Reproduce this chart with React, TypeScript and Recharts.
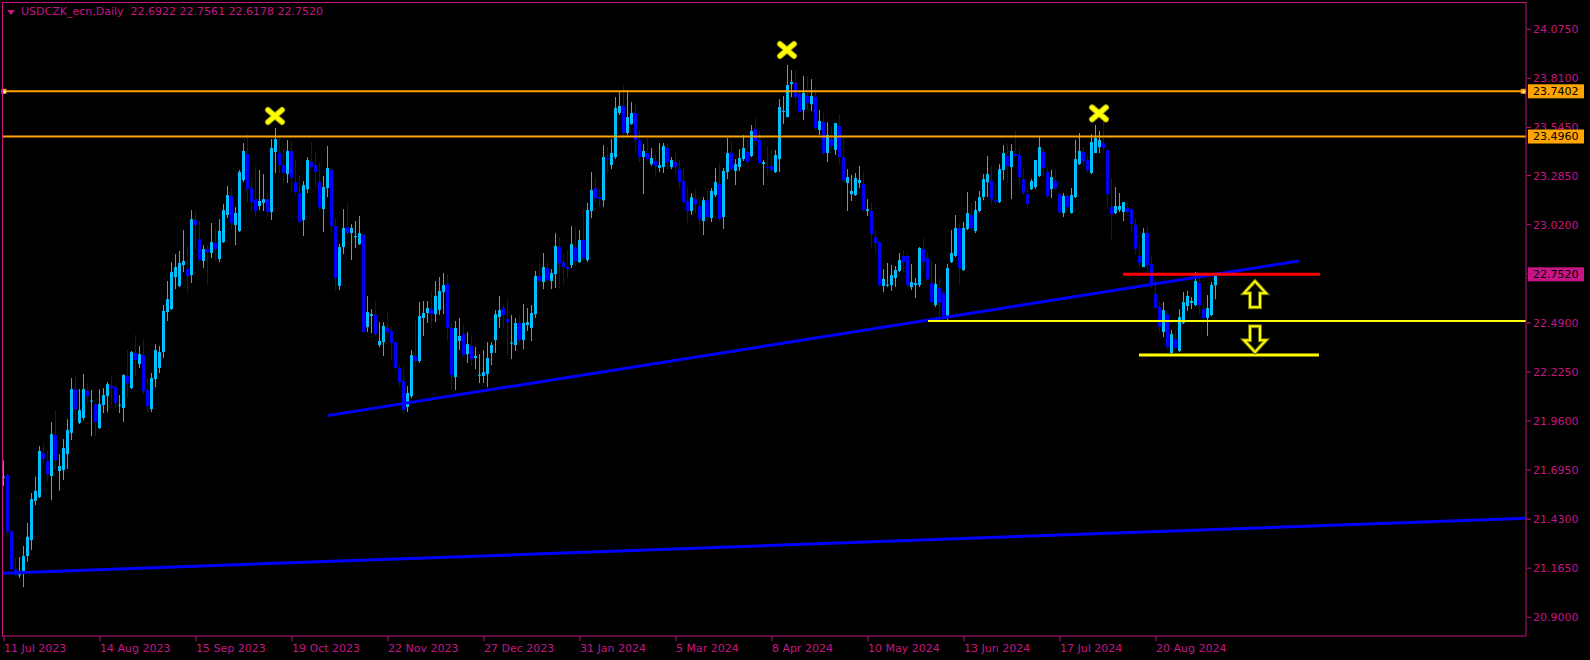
import React from 'react';
import { ComposedChart, Bar, XAxis, YAxis, ReferenceLine, ReferenceDot } from 'recharts';

const MAGENTA = '#C71585';
const BULL = '#00BFFF';
const BEAR = '#0000FF';
const ORANGE = '#FFA500';
const YELLOW = '#FFFF00';
const FONT = '"DejaVu Sans", sans-serif';

// bar index of each date label (daily bars, 4px apart in MT4)
const DATE_TICKS = [0, 24, 48, 72, 96, 120, 144, 168, 192, 216, 240, 264, 288];
const DATE_LABELS = [
  '11 Jul 2023', '14 Aug 2023', '15 Sep 2023', '19 Oct 2023', '22 Nov 2023', '27 Dec 2023',
  '31 Jan 2024', '5 Mar 2024', '8 Apr 2024', '10 May 2024', '13 Jun 2024', '17 Jul 2024', '20 Aug 2024',
];

const PRICE_TICKS = [24.075, 23.81, 23.545, 23.285, 23.02, 22.755, 22.49, 22.225, 21.96, 21.695, 21.43, 21.165, 20.9];
const HIDDEN_TICK = 22.755;
const RESISTANCE = [23.7402, 23.496];
const LAST_PRICE = 22.752;

const OPEN = [
  21.652, 21.668, 21.365, 21.159, 21.128, 21.139, 21.231, 21.317, 21.529, 21.549,
  21.787, 21.744, 21.663, 21.884, 21.690, 21.695, 21.781, 21.896, 22.132, 21.949,
  21.976, 22.122, 22.066, 22.051, 21.922, 22.046, 22.095, 22.149, 22.143, 22.044,
  22.030, 22.203, 22.138, 22.327, 22.267, 22.316, 22.127, 22.024, 22.186, 22.246,
  22.332, 22.548, 22.564, 22.737, 22.689, 22.802, 22.780, 22.748, 23.045, 22.942,
  22.824, 22.888, 22.867, 22.921, 22.834, 22.926, 23.072, 23.175, 23.018, 22.986,
  23.261, 23.401, 23.217, 23.158, 23.121, 23.137, 23.158, 23.088, 23.412, 23.407,
  23.342, 23.293, 23.418, 23.250, 23.191, 23.045, 23.212, 23.358, 23.342, 23.250,
  23.104, 23.218, 23.315, 23.013, 22.689, 22.899, 23.007, 22.975, 22.953, 22.915,
  22.964, 22.467, 22.527, 22.532, 22.370, 22.386, 22.462, 22.446, 22.386, 22.246,
  22.176, 22.035, 22.095, 22.311, 22.284, 22.516, 22.543, 22.564, 22.537, 22.559,
  22.656, 22.700, 22.462, 22.197, 22.392, 22.429, 22.321, 22.365, 22.300, 22.206,
  22.203, 22.213, 22.327, 22.397, 22.521, 22.570, 22.510, 22.378, 22.370, 22.489,
  22.397, 22.478, 22.462, 22.537, 22.743, 22.710, 22.786, 22.716, 22.753, 22.899,
  22.818, 22.791, 22.802, 22.899, 22.818, 22.937, 22.829, 23.094, 23.218, 23.169,
  23.152, 23.380, 23.342, 23.385, 23.623, 23.661, 23.515, 23.563, 23.623, 23.477,
  23.385, 23.407, 23.347, 23.364, 23.326, 23.331, 23.434, 23.331, 23.358, 23.320,
  23.256, 23.148, 23.094, 23.158, 23.121, 23.040, 23.152, 23.056, 23.180, 23.239,
  23.061, 23.304, 23.407, 23.310, 23.331, 23.374, 23.412, 23.391, 23.536, 23.477,
  23.347, 23.331, 23.337, 23.304, 23.374, 23.628, 23.601, 23.779, 23.785, 23.725,
  23.639, 23.715, 23.671, 23.709, 23.531, 23.574, 23.407, 23.482, 23.423, 23.553,
  23.385, 23.245, 23.185, 23.180, 23.245, 23.239, 23.094, 23.094, 22.953, 22.926,
  22.689, 22.692, 22.694, 22.732, 22.770, 22.851, 22.851, 22.683, 22.694, 22.694,
  22.888, 22.840, 22.705, 22.586, 22.678, 22.651, 22.516, 22.818, 22.851, 23.002,
  22.775, 22.997, 23.072, 22.986, 23.094, 23.169, 23.250, 23.256, 23.152, 23.142,
  23.315, 23.391, 23.331, 23.401, 23.396, 23.266, 23.185, 23.212, 23.223, 23.283,
  23.412, 23.304, 23.212, 23.256, 23.185, 23.083, 23.175, 23.083, 23.169, 23.347,
  23.412, 23.369, 23.299, 23.407, 23.439, 23.461, 23.423, 23.115, 23.083, 23.099,
  23.088, 23.110, 23.104, 23.018, 22.851, 22.791, 22.975, 22.807, 22.645, 22.575,
  22.440, 22.537, 22.327, 22.403, 22.338, 22.489, 22.581, 22.597, 22.586, 22.705,
  22.564, 22.516, 22.532, 22.6922,
];

const HIGH = [
  21.748, 21.675, 21.371, 21.220, 21.225, 21.285, 21.409, 21.571, 21.659, 21.825,
  21.835, 21.803, 21.954, 22.019, 21.781, 21.862, 21.970, 22.192, 22.208, 22.132,
  22.213, 22.165, 22.127, 22.062, 22.132, 22.138, 22.170, 22.203, 22.154, 22.100,
  22.213, 22.343, 22.338, 22.424, 22.365, 22.397, 22.197, 22.219, 22.375, 22.365,
  22.586, 22.716, 22.818, 22.861, 22.878, 22.991, 22.905, 23.099, 23.088, 23.040,
  22.910, 22.910, 23.029, 23.007, 23.050, 23.131, 23.229, 23.218, 23.115, 23.315,
  23.461, 23.509, 23.261, 23.331, 23.315, 23.293, 23.191, 23.482, 23.542, 23.493,
  23.428, 23.477, 23.472, 23.369, 23.288, 23.256, 23.385, 23.466, 23.407, 23.353,
  23.283, 23.445, 23.331, 23.056, 22.915, 23.104, 23.131, 23.023, 23.040, 23.067,
  22.969, 22.635, 22.564, 22.608, 22.494, 22.494, 22.543, 22.467, 22.390, 22.262,
  22.262, 22.149, 22.343, 22.505, 22.602, 22.608, 22.608, 22.656, 22.716, 22.737,
  22.759, 22.753, 22.483, 22.500, 22.516, 22.483, 22.440, 22.419, 22.359, 22.321,
  22.343, 22.386, 22.386, 22.559, 22.635, 22.586, 22.618, 22.532, 22.516, 22.532,
  22.591, 22.570, 22.586, 22.770, 22.813, 22.867, 22.824, 22.780, 22.975, 22.953,
  22.861, 22.883, 23.013, 23.007, 22.991, 23.104, 23.137, 23.304, 23.272, 23.212,
  23.450, 23.439, 23.482, 23.709, 23.736, 23.774, 23.736, 23.682, 23.671, 23.531,
  23.455, 23.488, 23.434, 23.401, 23.461, 23.461, 23.461, 23.385, 23.412, 23.369,
  23.331, 23.223, 23.191, 23.212, 23.152, 23.169, 23.207, 23.218, 23.326, 23.353,
  23.326, 23.488, 23.472, 23.374, 23.428, 23.504, 23.482, 23.558, 23.601, 23.531,
  23.369, 23.445, 23.423, 23.423, 23.698, 23.715, 23.882, 23.855, 23.855, 23.736,
  23.823, 23.823, 23.806, 23.763, 23.639, 23.623, 23.574, 23.547, 23.569, 23.617,
  23.493, 23.320, 23.288, 23.299, 23.337, 23.304, 23.158, 23.142, 22.991, 22.932,
  22.780, 22.813, 22.802, 22.797, 22.867, 22.883, 22.867, 22.807, 22.732, 22.899,
  22.953, 22.872, 22.829, 22.807, 22.737, 22.667, 22.807, 22.991, 23.072, 23.029,
  23.034, 23.196, 23.137, 23.148, 23.202, 23.293, 23.391, 23.337, 23.234, 23.347,
  23.450, 23.461, 23.455, 23.526, 23.434, 23.326, 23.212, 23.266, 23.369, 23.493,
  23.428, 23.331, 23.315, 23.320, 23.190, 23.191, 23.185, 23.218, 23.477, 23.515,
  23.439, 23.391, 23.509, 23.558, 23.526, 23.612, 23.425, 23.272, 23.223, 23.191,
  23.142, 23.142, 23.115, 23.056, 22.921, 23.002, 23.013, 22.845, 22.727, 22.602,
  22.602, 22.548, 22.451, 22.451, 22.564, 22.656, 22.662, 22.629, 22.764, 22.737,
  22.612, 22.640, 22.710, 22.7561,
];

const LOW = [
  21.608, 21.344, 21.155, 21.125, 21.112, 21.063, 21.200, 21.263, 21.506, 21.544,
  21.722, 21.632, 21.533, 21.695, 21.583, 21.641, 21.701, 21.857, 21.965, 21.943,
  21.965, 22.057, 21.879, 21.873, 21.917, 22.003, 22.008, 22.051, 22.030, 22.003,
  21.954, 22.084, 22.132, 22.203, 22.246, 22.106, 22.008, 22.008, 22.143, 22.219,
  22.300, 22.500, 22.559, 22.672, 22.683, 22.764, 22.651, 22.705, 22.883, 22.813,
  22.786, 22.694, 22.840, 22.824, 22.818, 22.921, 23.056, 22.991, 22.910, 22.980,
  23.250, 23.142, 23.088, 23.061, 23.099, 23.094, 23.067, 23.045, 23.299, 23.299,
  23.234, 23.245, 23.196, 23.180, 23.030, 22.959, 23.191, 23.320, 23.223, 23.094,
  22.980, 23.169, 22.975, 22.662, 22.667, 22.861, 22.964, 22.829, 22.894, 22.910,
  22.435, 22.440, 22.435, 22.419, 22.359, 22.311, 22.413, 22.289, 22.240, 22.143,
  21.997, 22.008, 22.084, 22.251, 22.273, 22.419, 22.489, 22.462, 22.494, 22.532,
  22.537, 22.392, 22.127, 22.127, 22.343, 22.305, 22.273, 22.257, 22.240, 22.165,
  22.165, 22.143, 22.262, 22.327, 22.462, 22.462, 22.311, 22.294, 22.338, 22.381,
  22.348, 22.446, 22.392, 22.516, 22.700, 22.672, 22.710, 22.672, 22.678, 22.672,
  22.700, 22.732, 22.786, 22.797, 22.813, 22.829, 22.818, 23.056, 23.137, 23.115,
  23.115, 23.293, 23.320, 23.374, 23.612, 23.482, 23.504, 23.560, 23.418, 23.358,
  23.185, 23.364, 23.337, 23.277, 23.304, 23.299, 23.320, 23.320, 23.288, 23.218,
  23.137, 23.029, 23.072, 23.083, 23.018, 22.964, 23.045, 23.034, 23.169, 23.040,
  22.997, 23.266, 23.310, 23.234, 23.310, 23.364, 23.347, 23.385, 23.445, 23.347,
  23.234, 23.288, 23.304, 23.299, 23.304, 23.563, 23.601, 23.709, 23.666, 23.623,
  23.585, 23.634, 23.634, 23.531, 23.504, 23.396, 23.358, 23.423, 23.396, 23.342,
  23.245, 23.094, 23.148, 23.175, 23.218, 23.088, 23.067, 22.899, 22.867, 22.683,
  22.656, 22.683, 22.662, 22.683, 22.764, 22.764, 22.683, 22.667, 22.624, 22.683,
  22.780, 22.721, 22.597, 22.575, 22.516, 22.505, 22.505, 22.813, 22.845, 22.700,
  22.770, 22.991, 22.991, 22.975, 23.088, 23.152, 23.169, 23.126, 23.131, 23.137,
  23.261, 23.245, 23.158, 23.385, 23.223, 23.180, 23.110, 23.207, 23.212, 23.277,
  23.283, 23.164, 23.164, 23.207, 23.083, 23.061, 23.088, 23.080, 23.164, 23.342,
  23.337, 23.299, 23.293, 23.407, 23.407, 23.407, 23.115, 22.942, 23.077, 23.088,
  23.040, 23.083, 22.980, 22.861, 22.791, 22.791, 22.748, 22.678, 22.565, 22.435,
  22.413, 22.348, 22.325, 22.343, 22.332, 22.483, 22.554, 22.564, 22.581, 22.537,
  22.483, 22.419, 22.527, 22.6178,
];

const CLOSE = [
  21.660, 21.362, 21.159, 21.130, 21.132, 21.231, 21.335, 21.538, 21.583, 21.798,
  21.754, 21.673, 21.889, 21.749, 21.717, 21.814, 21.911, 22.132, 22.024, 22.019,
  22.132, 22.095, 22.070, 21.954, 22.051, 22.100, 22.159, 22.138, 22.057, 22.048,
  22.208, 22.165, 22.332, 22.289, 22.321, 22.122, 22.041, 22.192, 22.343, 22.332,
  22.554, 22.618, 22.764, 22.791, 22.813, 22.824, 22.743, 23.050, 23.018, 22.829,
  22.888, 22.872, 22.926, 22.888, 22.986, 23.099, 23.180, 23.029, 23.083, 23.304,
  23.418, 23.212, 23.142, 23.094, 23.148, 23.158, 23.088, 23.434, 23.482, 23.342,
  23.299, 23.418, 23.272, 23.196, 23.034, 23.234, 23.369, 23.331, 23.304, 23.115,
  23.223, 23.326, 23.013, 22.732, 22.899, 23.002, 22.975, 23.002, 22.959, 22.975,
  22.440, 22.548, 22.537, 22.429, 22.392, 22.473, 22.440, 22.381, 22.246, 22.170,
  22.019, 22.111, 22.316, 22.284, 22.527, 22.543, 22.570, 22.537, 22.635, 22.662,
  22.694, 22.462, 22.208, 22.462, 22.419, 22.316, 22.375, 22.294, 22.311, 22.210,
  22.224, 22.300, 22.370, 22.537, 22.559, 22.532, 22.494, 22.384, 22.489, 22.397,
  22.489, 22.494, 22.543, 22.743, 22.716, 22.791, 22.721, 22.759, 22.905, 22.813,
  22.791, 22.780, 22.915, 22.824, 22.937, 22.840, 23.099, 23.207, 23.164, 23.158,
  23.385, 23.374, 23.407, 23.650, 23.661, 23.515, 23.601, 23.623, 23.477, 23.385,
  23.418, 23.374, 23.380, 23.337, 23.342, 23.445, 23.358, 23.369, 23.331, 23.250,
  23.142, 23.094, 23.169, 23.131, 23.050, 23.152, 23.061, 23.202, 23.250, 23.050,
  23.310, 23.407, 23.320, 23.347, 23.380, 23.434, 23.358, 23.526, 23.472, 23.353,
  23.358, 23.326, 23.315, 23.396, 23.655, 23.634, 23.774, 23.790, 23.709, 23.628,
  23.731, 23.677, 23.715, 23.542, 23.580, 23.407, 23.504, 23.445, 23.569, 23.385,
  23.261, 23.277, 23.202, 23.272, 23.261, 23.099, 23.104, 22.969, 22.921, 22.694,
  22.727, 22.696, 22.748, 22.775, 22.829, 22.818, 22.694, 22.710, 22.705, 22.894,
  22.818, 22.727, 22.602, 22.700, 22.597, 22.521, 22.786, 22.867, 23.002, 22.786,
  23.002, 23.083, 23.002, 23.099, 23.169, 23.266, 23.293, 23.158, 23.142, 23.320,
  23.407, 23.337, 23.418, 23.391, 23.277, 23.191, 23.131, 23.256, 23.369, 23.439,
  23.326, 23.175, 23.277, 23.218, 23.088, 23.175, 23.115, 23.180, 23.374, 23.418,
  23.364, 23.315, 23.466, 23.488, 23.477, 23.434, 23.185, 23.077, 23.121, 23.121,
  23.142, 23.088, 23.023, 22.888, 22.813, 22.975, 22.802, 22.694, 22.570, 22.467,
  22.559, 22.359, 22.429, 22.354, 22.521, 22.602, 22.635, 22.608, 22.716, 22.586,
  22.516, 22.570, 22.694, 22.7520,
];

// drawn objects: trend lines and levels (bar index, price)
const LONG_TREND = [{ x: -0.5, y: 21.138 }, { x: 380.5, y: 21.435 }];
const RISING_TREND = [{ x: 80.9, y: 21.989 }, { x: 323.75, y: 22.824 }];
const NECKLINE = [{ x: 231, y: 22.5 }, { x: 380.5, y: 22.5 }];
const LOWER_SUPPORT = [{ x: 283.75, y: 22.316 }, { x: 328.75, y: 22.316 }];
const RED_LEVEL = [{ x: 279.75, y: 22.752 }, { x: 329, y: 22.752 }];
const PEAK_X = [67.75, 195.75, 273.75];
const PEAK_Y = [23.607, 23.963, 23.621];
const ARROW_X = 312.75;
const ARROW_UP_Y = 22.645;
const ARROW_DOWN_Y = 22.402;
const HANDLE_X = [0, 379.8];

const data = OPEN.map((o, i) => ({ i, o, h: HIGH[i], l: LOW[i], c: CLOSE[i] }));

const Candle = (props: any) => {
  const { x, y, width, height, payload } = props;
  if (x == null || y == null || !payload) return null;
  const { o, h, l, c } = payload;
  const top = Math.min(y, y + height);
  const bottom = Math.max(y, y + height);
  const span = h - l;
  const toY = (v: number) => (span > 0 ? top + ((h - v) / span) * (bottom - top) : top);
  const color = c > o ? BULL : BEAR;
  const cx = Math.floor(x + width / 2);
  const bTop = Math.min(toY(o), toY(c));
  const bH = Math.max(1, Math.abs(toY(o) - toY(c)));
  return (
    <g>
      <rect x={cx} y={top} width={1} height={Math.max(1, bottom - top)} fill={color} />
      <rect x={cx - 1} y={bTop} width={3} height={bH} fill={color} />
    </g>
  );
};

const TAGS = [
  { v: RESISTANCE[0], bg: ORANGE },
  { v: RESISTANCE[1], bg: ORANGE },
  { v: LAST_PRICE, bg: MAGENTA },
];

const PriceTick = (props: any) => {
  const { x, y, payload } = props;
  const v = payload.value as number;
  const tag = TAGS.find((t) => Math.abs(t.v - v) < 1e-6);
  if (tag) {
    return (
      <g>
        <rect x={x + 2} y={y - 7} width={56} height={14} fill={tag.bg} />
        <text x={x + 7} y={y} dy="0.36em" fill="#000" fontSize={11} fontFamily={FONT}>
          {v.toFixed(4)}
        </text>
      </g>
    );
  }
  return (
    <g>
      <line x1={x + 1} x2={x + 5} y1={y} y2={y} stroke={MAGENTA} />
      {Math.abs(v - HIDDEN_TICK) > 1e-6 && (
        <text x={x + 7} y={y} dy="0.36em" fill={MAGENTA} fontSize={11} fontFamily={FONT}>
          {v.toFixed(4)}
        </text>
      )}
    </g>
  );
};

const DateTick = (props: any) => {
  const { x, y, payload } = props;
  const idx = DATE_TICKS.indexOf(payload.value);
  return (
    <g>
      <line x1={x} x2={x} y1={y} y2={y + 5} stroke={MAGENTA} />
      <text x={x} y={y + 12} dy="0.36em" textAnchor="start" fill={MAGENTA} fontSize={11} fontFamily={FONT}>
        {DATE_LABELS[idx]}
      </text>
    </g>
  );
};

const PeakMark = (props: any) => {
  const { cx, cy } = props;
  if (cx == null) return null;
  return (
    <g>
      <path d={`M${cx - 7},${cy - 6} L${cx + 7},${cy + 6} M${cx - 7},${cy + 6} L${cx + 7},${cy - 6}`}
        stroke="#B8B800" strokeWidth={6} strokeLinecap="round" />
      <path d={`M${cx - 7},${cy - 6} L${cx + 7},${cy + 6} M${cx - 7},${cy + 6} L${cx + 7},${cy - 6}`}
        stroke={YELLOW} strokeWidth={4} strokeLinecap="round" />
    </g>
  );
};

const arrowPath = (cx: number, cy: number, dir: number) => {
  const p = [
    [0, -13], [11, -1], [5, -1], [5, 13], [-5, 13], [-5, -1], [-11, -1],
  ];
  return 'M' + p.map(([a, b]) => `${cx + a},${cy + b * dir}`).join(' L') + ' Z';
};

const Arrow = (dir: number) => (props: any) => {
  const { cx, cy } = props;
  if (cx == null) return null;
  return (
    <g>
      <path d={arrowPath(cx, cy, dir)} fill="none" stroke="#6E6E00" strokeWidth={4} strokeLinejoin="miter" />
      <path d={arrowPath(cx, cy, dir)} fill="none" stroke={YELLOW} strokeWidth={2} strokeLinejoin="miter" />
    </g>
  );
};

const Handle = (props: any) => {
  const { cx, cy } = props;
  if (cx == null) return null;
  return (
    <g>
      <rect x={cx - 2.5} y={cy - 2.5} width={5} height={5} fill={ORANGE} />
      <rect x={cx - 0.5} y={cy - 0.5} width={2} height={2} fill="#FFF" />
    </g>
  );
};

export default function App() {
  return (
    <div style={{ position: 'absolute', left: 0, top: 0, width: 1590, height: 660, background: '#000', overflow: 'hidden' }}>
      <ComposedChart width={1590} height={660} data={data} margin={{ top: 2, right: 0, bottom: 4, left: 2 }}>
        <XAxis
          dataKey="i"
          type="number"
          domain={[-0.5, 380.5]}
          allowDataOverflow
          ticks={DATE_TICKS}
          interval={0}
          tickSize={0}
          tickMargin={0}
          height={20}
          axisLine={{ stroke: MAGENTA }}
          tickLine={false}
          tick={<DateTick />}
        />
        <YAxis
          orientation="right"
          type="number"
          domain={[20.799, 24.2224]}
          allowDataOverflow
          ticks={[...PRICE_TICKS, ...RESISTANCE, LAST_PRICE]}
          interval={0}
          width={64}
          tickSize={0}
          tickMargin={0}
          axisLine={{ stroke: MAGENTA }}
          tickLine={false}
          tick={<PriceTick />}
        />
        <Bar dataKey={(d: any) => [d.l, d.h]} barSize={3} shape={<Candle />} isAnimationActive={false} />
        {RESISTANCE.map((v) => (
          <ReferenceLine key={v} y={v} stroke={ORANGE} strokeWidth={2} />
        ))}
        <ReferenceLine segment={LONG_TREND} stroke="#0000FF" strokeWidth={3} />
        <ReferenceLine segment={RISING_TREND} stroke="#0000FF" strokeWidth={3} />
        <ReferenceLine segment={NECKLINE} stroke={YELLOW} strokeWidth={2} />
        <ReferenceLine segment={LOWER_SUPPORT} stroke={YELLOW} strokeWidth={3} />
        <ReferenceLine segment={RED_LEVEL} stroke="#FF0000" strokeWidth={3} />
        {HANDLE_X.map((hx) => (
          <ReferenceDot key={hx} x={hx} y={RESISTANCE[0]} r={3} shape={<Handle />} />
        ))}
        {PEAK_X.map((px, k) => (
          <ReferenceDot key={px} x={px} y={PEAK_Y[k]} r={8} shape={<PeakMark />} />
        ))}
        <ReferenceDot x={ARROW_X} y={ARROW_UP_Y} r={10} shape={Arrow(1)} />
        <ReferenceDot x={ARROW_X} y={ARROW_DOWN_Y} r={10} shape={Arrow(-1)} />
      </ComposedChart>
      <div
        style={{
          position: 'absolute', left: 2, top: 2, width: 1524, height: 634,
          borderLeft: `1px solid ${MAGENTA}`, borderTop: `1px solid ${MAGENTA}`,
          boxSizing: 'border-box', pointerEvents: 'none',
        }}
      />
      <div
        style={{
          position: 'absolute', left: 7, top: 5, color: MAGENTA, fontFamily: FONT, fontSize: 11,
          whiteSpace: 'pre', display: 'flex', alignItems: 'center', lineHeight: '14px',
        }}
      >
        <svg width={14} height={14} style={{ display: 'block' }}>
          <polygon points="0,5 8,5 4,10" fill={MAGENTA} />
        </svg>
        <span>USDCZK_ecn,Daily  22.6922 22.7561 22.6178 22.7520</span>
      </div>
    </div>
  );
}
